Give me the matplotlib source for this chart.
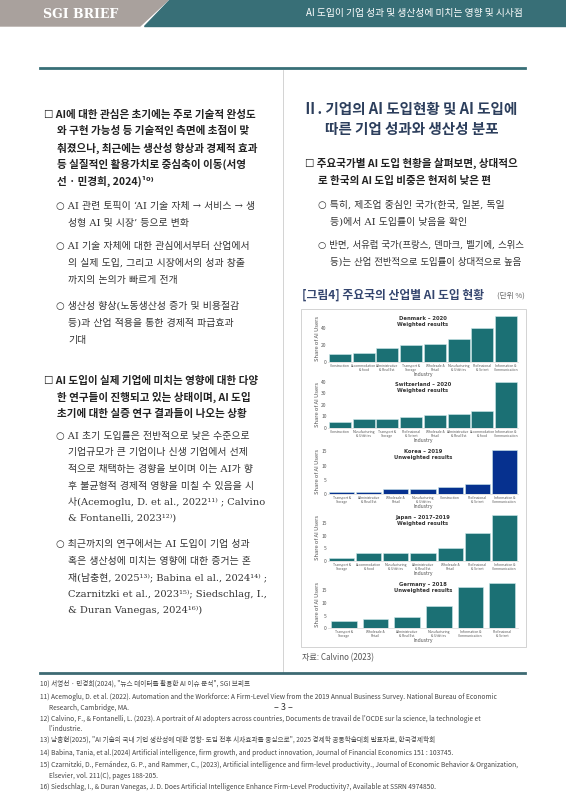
import matplotlib.pyplot as plt
from matplotlib.patches import Rectangle, Polygon

plt.rcParams['font.family'] = ['Noto Sans CJK KR', 'DejaVu Sans']

W, H = 566, 800
TEAL = '#1b7074'
NAVY = '#06318f'
HEAD = '#386f77'
SERIF = ['DejaVu Serif', 'Noto Sans CJK KR']

# 데이터
dk_labels = ['Construction', 'Accommodation\n& food', 'Administrative\n& Real Est.', 'Transport &\nStorage',
             'Wholesale &\nRetail', 'Manufacturing\n& Utilities', 'Professional\n& Scient', 'Information &\nCommunication']
dk_values = [9, 11, 17, 20, 21.5, 27, 40, 55]

ch_labels = ['Construction', 'Manufacturing\n& Utilities', 'Transport &\nStorage', 'Professional\n& Scient',
             'Wholesale &\nRetail', 'Administrative\n& Real Est.', 'Accommodation\n& food', 'Information &\nCommunication']
ch_values = [5.5, 7.5, 8, 9.5, 11, 12, 15, 40]

kr_labels = ['Transport &\nStorage', 'Administrative\n& Real Est.', 'Wholesale &\nRetail', 'Manufacturing\n& Utilities',
             'Construction', 'Professional\n& Scient', 'Information &\nCommunication']
kr_values = [0.6, 0.8, 1.8, 1.8, 2.5, 3.5, 15.5]

jp_labels = ['Transport &\nStorage', 'Accommodation\n& food', 'Manufacturing\n& Utilities', 'Administrative\n& Real Est.',
             'Wholesale &\nRetail', 'Professional\n& Scient', 'Information &\nCommunication']
jp_values = [1.2, 3, 3.2, 3.2, 5.2, 11, 18]

de_labels = ['Transport &\nStorage', 'Wholesale &\nRetail', 'Administrative\n& Real Est.', 'Manufacturing\n& Utilities',
             'Information &\nCommunication', 'Professional\n& Scient']
de_values = [2.8, 3.8, 4.5, 9, 16.5, 18]

# (제목, 라벨, 값, 눈금, y최대, 색, 막대폭, 위 px, 아래 px)
panels = [
    ('Denmark – 2020\nWeighted results', dk_labels, dk_values, [0, 20, 40], 56, TEAL, 0.93, 315, 362),
    ('Switzerland – 2020\nWeighted results', ch_labels, ch_values, [0, 10, 20, 30, 40], 40.5, TEAL, 0.93, 381, 428),
    ('Korea – 2019\nUnweighted results', kr_labels, kr_values, [0, 5, 10, 15], 16.2, NAVY, 0.93, 448, 494),
    ('Japan – 2017–2019\nWeighted results', jp_labels, jp_values, [0, 5, 10, 15], 18.5, TEAL, 0.93, 514, 561),
    ('Germany – 2018\nUnweighted results', de_labels, de_values, [0, 5, 10, 15], 18.8, TEAL, 0.82, 581, 628),
]

fig = plt.figure(figsize=(W / 100, H / 100), dpi=100)


def t(x, y, s, **kw):
    fig.text(x / W, 1 - y / H, s, va='center', **kw)


def fx(x):
    return x / W


def fy(y):
    return 1 - y / H


# 헤더
fig.patches.append(Polygon([(0, fy(0)), (fx(168), fy(0)), (fx(140), fy(26)), (0, fy(26))],
                           transform=fig.transFigure, color='#a9a19d'))
fig.patches.append(Polygon([(fx(169), fy(0)), (1, fy(0)), (1, fy(26)), (fx(144), fy(26))],
                           transform=fig.transFigure, color=HEAD))
t(43, 14, 'SGI BRIEF', color='white', fontsize=9, fontweight='bold', family=['DejaVu Serif'])
t(523, 13, 'AI 도입이 기업 성과 및 생산성에 미치는 영향 및 시사점', color='white', fontsize=7, ha='right')
fig.add_artist(plt.Line2D([fx(40), fx(525)], [fy(68), fy(68)], color=HEAD, lw=2))
fig.add_artist(plt.Line2D([fx(283), fx(283)], [fy(70), fy(673)], color='#cccccc', lw=0.6))

fs = 7.6
left = [
    (44, 115, '☐ AI에 대한 관심은 초기에는 주로 기술적 완성도', 'bold'),
    (57, 131, '와 구현 가능성 등 기술적인 측면에 초점이 맞', 'bold'),
    (57, 148, '춰졌으나, 최근에는 생산성 향상과 경제적 효과', 'bold'),
    (57, 164, '등 실질적인 활용가치로 중심축이 이동(서영', 'bold'),
    (57, 181, '선 · 민경희, 2024)¹⁰⁾', 'bold'),
    (56, 207, '○ AI 관련 토픽이 ‘AI 기술 자체 → 서비스 → 생', 's'),
    (68, 223, '성형 AI 및 시장’ 등으로 변화', 's'),
    (56, 246, '○ AI 기술 자체에 대한 관심에서부터 산업에서', 's'),
    (68, 263, '의 실제 도입, 그리고 시장에서의 성과 창출', 's'),
    (68, 280, '까지의 논의가 빠르게 전개', 's'),
    (56, 306, '○ 생산성 향상(노동생산성 증가 및 비용절감', 's'),
    (68, 323, '등)과 산업 적용을 통한 경제적 파급효과', 's'),
    (68, 340, '기대', 's'),
    (44, 381, '☐ AI 도입이 실제 기업에 미치는 영향에 대한 다양', 'bold'),
    (57, 397, '한 연구들이 진행되고 있는 상태이며, AI 도입', 'bold'),
    (57, 414, '초기에 대한 실증 연구 결과들이 나오는 상황', 'bold'),
    (56, 437, '○ AI 초기 도입률은 전반적으로 낮은 수준으로', 's'),
    (68, 453, '기업규모가 큰 기업이나 신생 기업에서 선제', 's'),
    (68, 469, '적으로 채택하는 경향을 보이며 이는 AI가 향', 's'),
    (68, 486, '후 불균형적 경제적 영향을 미칠 수 있음을 시', 's'),
    (68, 502, '사(Acemoglu, D. et al., 2022¹¹⁾ ; Calvino', 's'),
    (68, 518, '& Fontanelli, 2023¹²⁾)', 's'),
    (56, 545, '○ 최근까지의 연구에서는 AI 도입이 기업 성과', 's'),
    (68, 561, '혹은 생산성에 미치는 영향에 대한 증거는 혼', 's'),
    (68, 578, '재(남충현, 2025¹³⁾; Babina el al., 2024¹⁴⁾ ;', 's'),
    (68, 594, 'Czarnitzki et al., 2023¹⁵⁾; Siedschlag, I.,', 's'),
    (68, 610, '& Duran Vanegas, 2024¹⁶⁾)', 's'),
]
for x, y, s, w in left:
    if w == 'bold':
        t(x, y, s, fontsize=fs, fontweight='bold', color='#222222')
    else:
        t(x, y, s, fontsize=7.1, color='#333333', family=SERIF)

t(303, 109, 'Ⅱ. 기업의 AI 도입현황 및 AI 도입에', fontsize=10.5, fontweight='bold', color='#2c3e5c')
t(325, 129, '따른 기업 성과와 생산성 분포', fontsize=10.5, fontweight='bold', color='#2c3e5c')
t(305, 163, '☐ 주요국가별 AI 도입 현황을 살펴보면, 상대적으', fontsize=fs, fontweight='bold', color='#222222')
t(318, 181, '로 한국의 AI 도입 비중은 현저히 낮은 편', fontsize=fs, fontweight='bold', color='#222222')
t(318, 205, '○ 특히, 제조업 중심인 국가(한국, 일본, 독일', fontsize=7.1, color='#333333', family=SERIF)
t(330, 222, '등)에서 AI 도입률이 낮음을 확인', fontsize=7.1, color='#333333', family=SERIF)
t(318, 245, '○ 반면, 서유럽 국가(프랑스, 덴마크, 벨기에, 스위스', fontsize=6.8, color='#333333', family=SERIF)
t(330, 262, '등)는 산업 전반적으로 도입률이 상대적으로 높음', fontsize=6.8, color='#333333', family=SERIF)
t(302, 295, '[그림4] 주요국의 산업별 AI 도입 현황', fontsize=8.5, fontweight='bold', color='#34456e')
t(525, 296, '(단위 %)', fontsize=5.5, color='#666666', ha='right')
t(302, 658, '자료: Calvino (2023)', fontsize=5.8, color='#555555')
fig.patches.append(Rectangle((fx(301), fy(647)), 225 / W, 338 / H, transform=fig.transFigure,
                             fill=False, ec='#cccccc', lw=0.6))

for title, labels, values, ticks, ymax, col, bw, y0, y1 in panels:
    ax = fig.add_axes([fx(328), fy(y1), 190 / W, (y1 - y0) / H])
    ax.bar(range(len(values)), values, width=bw, color=col, edgecolor='#cde8ea', linewidth=0.4)
    ax.set_xlim(-0.5, len(values) - 0.5)
    ax.set_ylim(0, ymax)
    ax.set_yticks(ticks)
    ax.set_xticks(range(len(values)))
    ax.set_xticklabels(labels, fontsize=2.4, color='#555555', linespacing=0.9)
    ax.tick_params(axis='y', labelsize=3.5, length=0, colors='#555555', pad=1)
    ax.tick_params(axis='x', length=0, pad=1.5)
    for s in ax.spines.values():
        s.set_visible(False)
    ax.spines['bottom'].set_visible(True)
    ax.spines['bottom'].set_color('#dddddd')
    ax.spines['bottom'].set_linewidth(0.6)
    ax.set_xlabel('Industry', fontsize=3.6, color='#555555', labelpad=0.5)
    ax.set_ylabel('Share of AI Users', fontsize=4.2, color='#555555', labelpad=1)
    ax.text(0.5, 0.97, title, transform=ax.transAxes, ha='center', va='top', fontsize=3.8,
            fontweight='bold', color='#333333', family=['DejaVu Sans'])

# 각주
fig.add_artist(plt.Line2D([fx(40), fx(525)], [fy(673), fy(673)], color='#3d6a73', lw=2))
t(283, 708, '– 3 –', fontsize=6.5, ha='center', color='#333333')
notes = [
    (684, '10) 서영선 · 민경희(2024), "뉴스 데이터를 활용한 AI 이슈 분석", SGI 브리프'),
    (697, '11) Acemoglu, D. et al. (2022). Automation and the Workforce: A Firm-Level View from the 2019 Annual Business Survey. National Bureau of Economic'),
    (708, '      Research, Cambridge, MA.'),
    (719, "12) Calvino, F., & Fontanelli, L. (2023). A portrait of AI adopters across countries, Documents de travail de l'OCDE sur la science, la technologie et"),
    (729, "      l'industrie."),
    (740, '13) 남충현(2025), "AI 기술의 국내 기업 생산성에 대한 영향- 도입 전후 시차효과를 중심으로", 2025 경제학 공동학술대회 발표자료, 한국경제학회'),
    (753, '14) Babina, Tania, et al.(2024) Artificial intelligence, firm growth, and product innovation, Journal of Financial Economics 151 : 103745.'),
    (765, '15) Czarnitzki, D., Fernández, G. P., and Rammer, C., (2023), Artificial intelligence and firm-level productivity., Journal of Economic Behavior & Organization,'),
    (776, '      Elsevier, vol. 211(C), pages 188-205.'),
    (787, '16) Siedschlag, I., & Duran Vanegas, J. D. Does Artificial Intelligence Enhance Firm-Level Productivity?, Available at SSRN 4974850.'),
]
for y, s in notes:
    t(40, y, s, fontsize=4.75, color='#444444')

fig.savefig('out.png', dpi=100)
